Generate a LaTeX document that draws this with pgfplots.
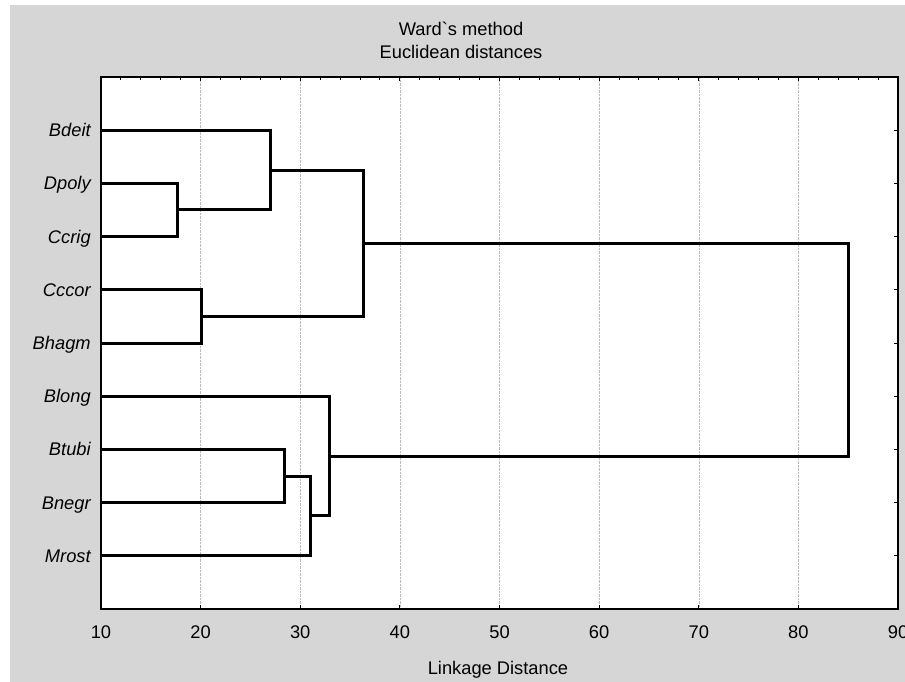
\documentclass[border=0pt]{standalone}
\usepackage{fontspec}
\setmainfont{Liberation Sans}
\newfontfamily\nomap{Liberation Sans}[Ligatures=TeXOff]
\usepackage{pgfplots}
\pgfplotsset{compat=1.18}
\definecolor{bggray}{RGB}{214,214,214}
\begin{document}
\fontsize{18.3}{23}\selectfont
\begin{tikzpicture}[x=1pt,y=1pt,font=\fontsize{18.3}{23}\selectfont]
\useasboundingbox (0,0) rectangle (905,682);
\fill[bggray] (10,0) rectangle (905,677);
\begin{axis}[
  at={(101pt,73pt)}, anchor=south west, scale only axis,
  width=797pt, height=532pt,
  xmin=10, xmax=90, ymin=0, ymax=10, y dir=reverse,
  axis background/.style={fill=white},
  axis line style={line width=1.5pt},
  xtick={10,20,...,90}, xtick pos=bottom,
  ytick={1,...,9},
  yticklabels={Bdeit,Dpoly,Ccrig,Cccor,Bhagm,Blong,Btubi,Bnegr,Mrost},
  ytick pos=right, yticklabel pos=left,
  tick align=inside, major tick length=4pt,
  tick style={black, line width=1pt},
  xmajorgrids, major x grid style={densely dotted, gray!55, line width=0.5pt},
  /pgf/number format/assume math mode=true,
  tick label style={font=\fontsize{18.3}{23}\selectfont},
  xticklabel style={anchor=base, yshift=-29pt},
  yticklabel style={anchor=base east, font=\fontsize{18.3}{23}\selectfont\itshape, xshift=-4pt, yshift=-6.5pt},
]
\addplot[black, line width=3pt, line join=miter] coordinates {(10,2) (17.7,2) (17.7,3) (10,3)};
\addplot[black, line width=3pt, line join=miter] coordinates {(10,1) (27.0,1) (27.0,2.5) (17.7,2.5)};
\addplot[black, line width=3pt, line join=miter] coordinates {(10,4) (20.1,4) (20.1,5) (10,5)};
\addplot[black, line width=3pt, line join=miter] coordinates {(27.0,1.75) (36.3,1.75) (36.3,4.5) (20.1,4.5)};
\addplot[black, line width=3pt, line join=miter] coordinates {(10,7) (28.4,7) (28.4,8) (10,8)};
\addplot[black, line width=3pt, line join=miter] coordinates {(28.4,7.5) (31.0,7.5) (31.0,9) (10,9)};
\addplot[black, line width=3pt, line join=miter] coordinates {(10,6) (32.9,6) (32.9,8.25) (31.0,8.25)};
\addplot[black, line width=3pt, line join=miter] coordinates {(36.3,3.125) (85.0,3.125) (85.0,7.125) (32.9,7.125)};
\end{axis}
\begin{axis}[
  at={(101pt,73pt)}, anchor=south west, scale only axis,
  width=797pt, height=532pt,
  xmin=10, xmax=90, ymin=0, ymax=1,
  axis x line*=top, axis y line=none,
  axis line style={line width=1.5pt},
  xtick={10,20,...,90}, minor x tick num=4, xticklabels={},
  tick align=inside, major tick length=4pt, minor tick length=3pt,
  tick style={black, line width=1pt},
]
\end{axis}
\node[anchor=base] at (461,646) {Ward{\nomap\char96}s method};
\node[anchor=base] at (461,623) {Euclidean distances};
\node[anchor=base] at (498,7) {Linkage Distance};
\end{tikzpicture}
\end{document}
